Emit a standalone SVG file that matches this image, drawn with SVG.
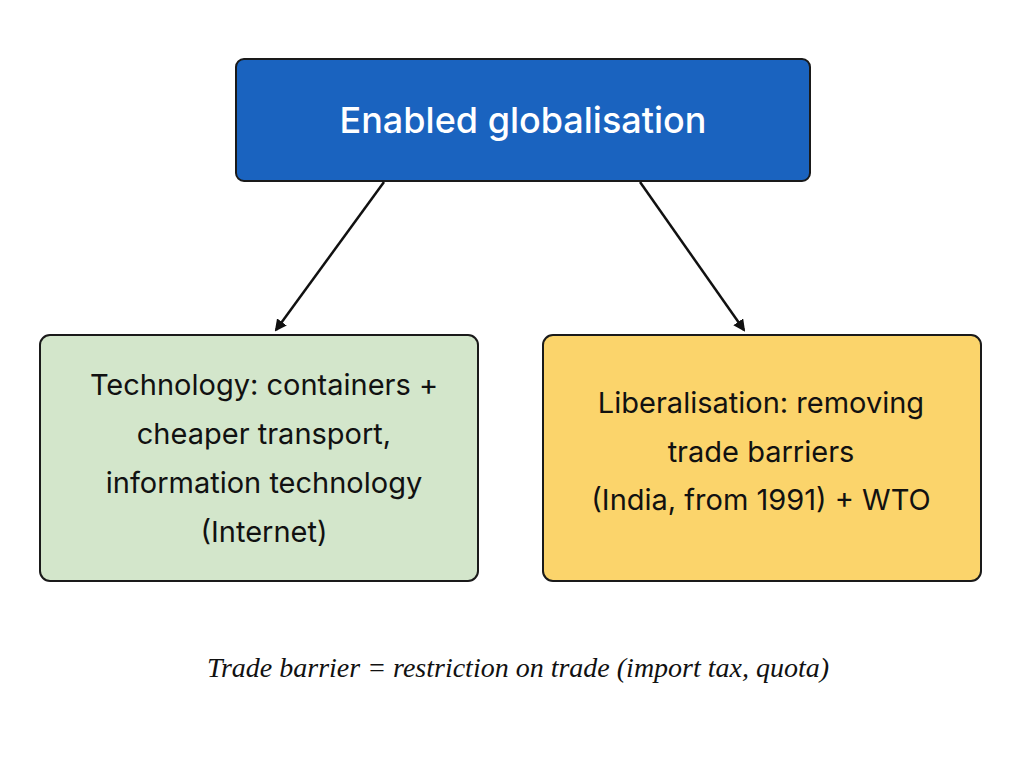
<svg xmlns="http://www.w3.org/2000/svg" width="1024" height="768" viewBox="0 0 1024 768">
<style>
.box{stroke:#1a1a1a;stroke-width:2}
.t{font-family:Inter,"Liberation Sans",sans-serif;font-size:29px;fill:#111;text-anchor:middle}
.c{stroke:#111;stroke-width:2.5;fill:none}
</style>
<defs><marker id="a" markerWidth="12" markerHeight="12" refX="10" refY="6" orient="auto" markerUnits="userSpaceOnUse"><path d="M0,0 L12,6 L0,12 Z" fill="#111"/></marker></defs>
<rect width="1024" height="768" fill="#fff"/>
<g id="top"><rect class="box" x="236" y="59" width="574" height="122" rx="8" fill="#1a63bf"/>
<text class="t" x="523" y="133" style="fill:#fff;font-size:36px;font-weight:500">Enabled globalisation</text></g>
<g id="tech"><rect class="box" x="40" y="335" width="438" height="246" rx="10" fill="#d3e6cb"/>
<text class="t" x="264" y="395">Technology: containers +</text>
<text class="t" x="264" y="444">cheaper transport,</text>
<text class="t" x="264" y="493">information technology</text>
<text class="t" x="264" y="542">(Internet)</text></g>
<g id="lib"><rect class="box" x="543" y="335" width="438" height="246" rx="10" fill="#fbd46b"/>
<text class="t" x="761" y="413">Liberalisation: removing</text>
<text class="t" x="761" y="462">trade barriers</text>
<text class="t" x="761" y="510">(India, from 1991) + WTO</text></g>
<g id="connectors">
<line class="c" x1="384" y1="182" x2="276" y2="330" marker-end="url(#a)"/>
<line class="c" x1="640" y1="182" x2="744" y2="330" marker-end="url(#a)"/>
</g>
<text x="518" y="677" style="font-family:'Liberation Serif',serif;font-style:italic;font-size:28px;fill:#111;text-anchor:middle">Trade barrier = restriction on trade (import tax, quota)</text>
</svg>
